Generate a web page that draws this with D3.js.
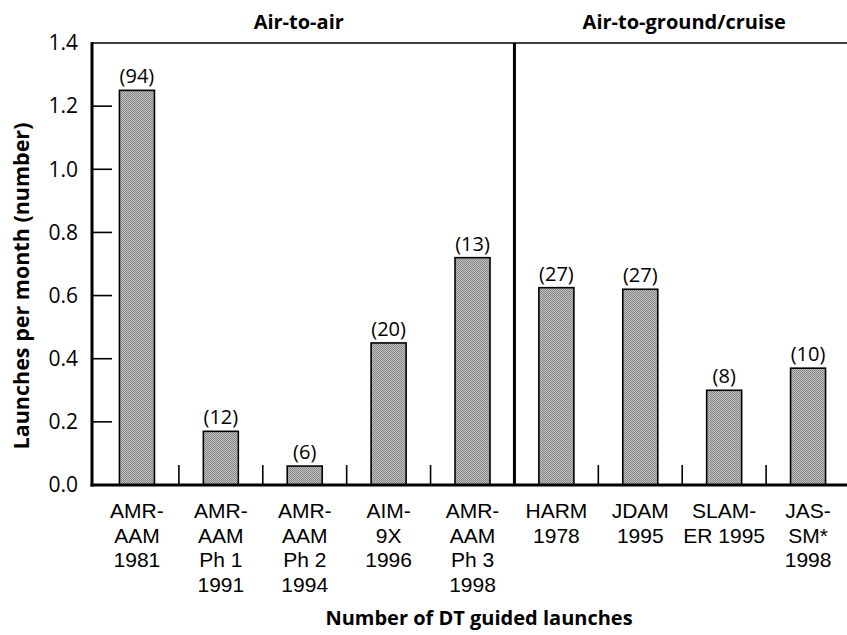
<!DOCTYPE html>
<html><head><meta charset="utf-8">
<script src="https://cdn.jsdelivr.net/npm/d3@7"></script>
<style>body{margin:0;background:#fff}svg{display:block}text{font-family:"Open Sans",sans-serif;fill:#000}</style>
</head><body>
<svg id="c" width="847" height="635"></svg>
<script>
const categories = ["AMR-AAM 1981","AMR-AAM Ph1 1991","AMR-AAM Ph2 1994","AIM-9X 1996","AMR-AAM Ph3 1998","HARM 1978","JDAM 1995","SLAM-ER 1995","JASSM 1998"];
const labelLines = [["AMR-","AAM","1981"],["AMR-","AAM","Ph 1","1991"],["AMR-","AAM","Ph 2","1994"],["AIM-","9X","1996"],["AMR-","AAM","Ph 3","1998"],["HARM","1978"],["JDAM","1995"],["SLAM-","ER 1995"],["JAS-","SM*","1998"]];
const launchesPerMonth = [1.25, 0.17, 0.06, 0.45, 0.72, 0.625, 0.62, 0.30, 0.37];
const guidedLaunches = [94, 12, 6, 20, 13, 27, 27, 8, 10];
const yTicks = [0.0, 0.2, 0.4, 0.6, 0.8, 1.0, 1.2, 1.4];
const groups = [{name:"Air-to-air", from:0, to:4},{name:"Air-to-ground/cruise", from:5, to:8}];

(function(){
const svg = d3.select("#c");
const pLeft = 92, pTop = 43, pBottom = 485;
const xs = d3.scaleBand().domain(categories).range([95, 850]);
const y = d3.scaleLinear().domain([0, 1.4]).range([pBottom, pTop]);

// stipple pattern for bars
const defs = svg.append("defs");
const pat = defs.append("pattern").attr("id", "stip").attr("width", 2).attr("height", 2).attr("patternUnits", "userSpaceOnUse");
pat.append("rect").attr("width", 2).attr("height", 2).attr("fill", "#c2c2c2");
pat.append("rect").attr("width", 1).attr("height", 1).attr("fill", "#858585");
pat.append("rect").attr("x", 1).attr("y", 1).attr("width", 1).attr("height", 1).attr("fill", "#858585");

// bars
svg.append("g").selectAll("rect").data(categories).join("rect")
  .attr("x", d => xs(d) + xs.bandwidth()/2 - 17.5)
  .attr("width", 35)
  .attr("y", (d,i) => y(launchesPerMonth[i]))
  .attr("height", (d,i) => pBottom - y(launchesPerMonth[i]))
  .attr("fill", "url(#stip)").attr("stroke", "#000").attr("stroke-width", 1.6);

// value labels
svg.append("g").selectAll("text").data(categories).join("text")
  .attr("x", d => xs(d) + xs.bandwidth()/2)
  .attr("y", (d,i) => y(launchesPerMonth[i]) - 7)
  .attr("text-anchor", "middle").attr("font-size", 20)
  .text((d,i) => "(" + guidedLaunches[i] + ")");

// y axis
const yAxis = d3.axisLeft(y).tickValues(yTicks).tickFormat(d3.format(".1f")).tickSize(0).tickPadding(14);
const ga = svg.append("g").attr("transform", `translate(${pLeft},0)`).call(yAxis);
ga.select(".domain").remove();
ga.selectAll("text").attr("font-size", 21).style("font-family", "'Open Sans',sans-serif");
svg.append("g").selectAll("line").data(yTicks.filter(t => t > 0 && t < 1.4)).join("line")
  .attr("x1", pLeft).attr("x2", pLeft + 20).attr("y1", d => y(d)).attr("y2", d => y(d))
  .attr("stroke", "#000").attr("stroke-width", 1.6);

// frame
svg.append("line").attr("x1", pLeft).attr("x2", 847).attr("y1", pTop).attr("y2", pTop).attr("stroke", "#000").attr("stroke-width", 1.6);
svg.append("line").attr("x1", pLeft).attr("x2", pLeft).attr("y1", pTop - 1).attr("y2", pBottom + 1.5).attr("stroke", "#000").attr("stroke-width", 3);
svg.append("line").attr("x1", pLeft - 1.5).attr("x2", 847).attr("y1", pBottom).attr("y2", pBottom).attr("stroke", "#000").attr("stroke-width", 3);

// category separators
const seps = categories.slice(1).map(d => xs(d));
svg.append("g").selectAll("line").data(seps).join("line")
  .attr("x1", d => d).attr("x2", d => d)
  .attr("y1", (d,i) => i === 4 ? pTop : pBottom - 20).attr("y2", pBottom)
  .attr("stroke", "#000").attr("stroke-width", (d,i) => i === 4 ? 3 : 1.6);

// category labels
const cl = svg.append("g").selectAll("g").data(categories).join("g")
  .attr("transform", d => `translate(${xs(d) + xs.bandwidth()/2},518)`);
cl.each(function(d,i){
  d3.select(this).selectAll("text").data(labelLines[i]).join("text")
    .attr("text-anchor", "middle").attr("font-size", 21)
    .style("font-family", "'Liberation Sans',Arial,sans-serif")
    .attr("x", 0).attr("y", (t,j) => j * 24.7).text(t => t);
});

// group titles
svg.append("g").selectAll("text").data(groups).join("text")
  .attr("x", g => (xs(categories[g.from]) + xs(categories[g.to]) + xs.bandwidth())/2 + (g.from === 0 ? -6 : 2))
  .attr("y", 29).attr("text-anchor", "middle").attr("font-size", 20).attr("font-weight", "bold")
  .text(g => g.name);

// axis titles
svg.append("text").attr("x", 479).attr("y", 625).attr("text-anchor", "middle")
  .attr("font-size", 20).attr("font-weight", "bold").text("Number of DT guided launches");
svg.append("text").attr("transform", "translate(29,286) rotate(-90)").attr("text-anchor", "middle")
  .attr("font-size", 21.5).attr("font-weight", "bold").text("Launches per month (number)");
})();
</script>
</body></html>
